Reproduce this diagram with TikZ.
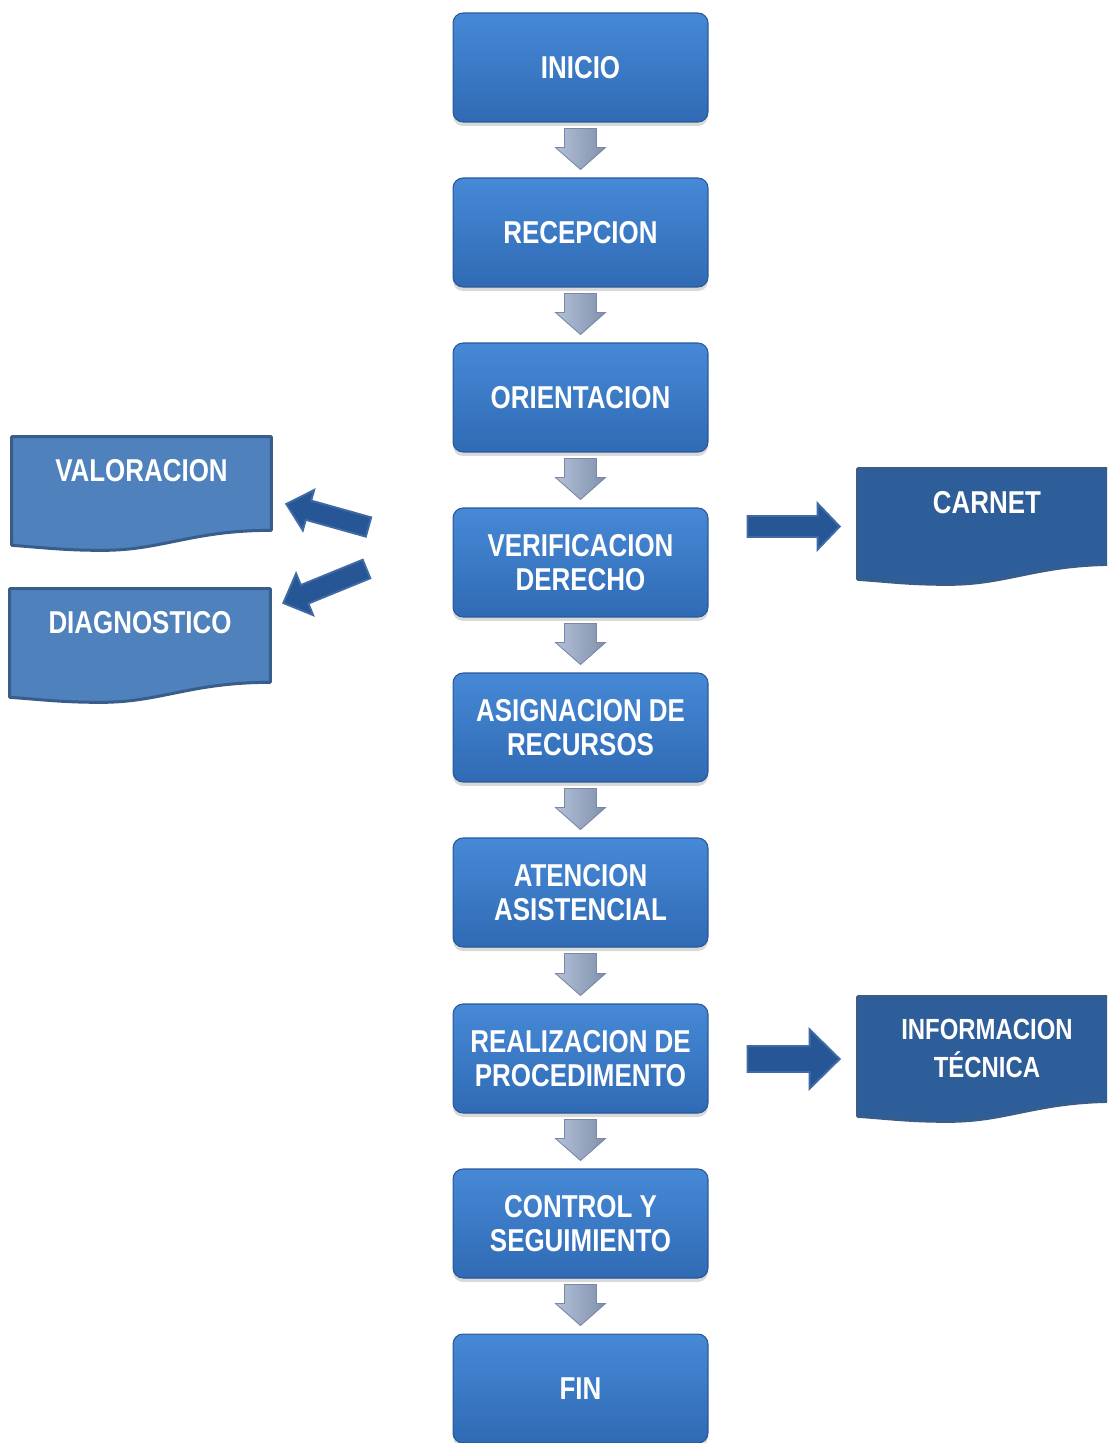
\documentclass[tikz,border=0pt]{standalone}
\usepackage{fontspec}
\newfontfamily\flowfont{Liberation Sans}[FakeStretch=0.82]
\usepackage{tikz}
\usetikzlibrary{positioning,calc,shadows}

\definecolor{boxtop}{RGB}{70,137,214}
\definecolor{boxbot}{RGB}{48,106,180}
\definecolor{boxline}{RGB}{40,88,152}
\definecolor{docleft}{RGB}{79,129,189}
\definecolor{docright}{RGB}{46,94,153}
\definecolor{docline}{RGB}{56,93,138}
\definecolor{arrowA}{RGB}{178,192,216}
\definecolor{arrowB}{RGB}{238,243,250}
\definecolor{arrowC}{RGB}{128,144,172}
\definecolor{arrowline}{RGB}{120,136,165}
\definecolor{sidefill}{RGB}{38,86,150}
\definecolor{sideline}{RGB}{64,106,166}

% block arrow: [style]{from}{to}{shaft half width}{head half width}{head length}
\newcommand{\blockarrow}[6][]{%
  \coordinate (ba-h) at ($(#3)!#6!(#2)$);
  \path[#1] ($(#2)!#4!90:(#3)$) -- ($(ba-h)!#4!90:(#3)$) -- ($(ba-h)!#5!90:(#3)$) -- (#3)
    -- ($(ba-h)!#5!-90:(#3)$) -- ($(ba-h)!#4!-90:(#3)$) -- ($(#2)!#4!-90:(#3)$) -- cycle;}

\begin{document}
\begin{tikzpicture}[x=0.02cm, y=0.02cm,
    stage/.style={rectangle, rounded corners=0.2cm, minimum width=5.1cm, minimum height=2.18cm,
                  top color=boxtop, bottom color=boxbot, draw=boxline, line width=0.6pt,
                  text=white, align=center, font=\flowfont\bfseries\fontsize{18}{19}\selectfont,
                  drop shadow={shadow xshift=0pt, shadow yshift=-0.08cm, opacity=0.3}},
    docbox/.style={rectangle, inner sep=0pt, minimum width=5.18cm},
    doctext/.style={text=white, align=center, inner sep=0pt,
                    font=\flowfont\bfseries\fontsize{18}{19}\selectfont},
    downarrow/.style={left color=arrowA, middle color=arrowB, right color=arrowC,
                      draw=arrowline, line width=0.5pt},
    sidearrow/.style={fill=sidefill, draw=sideline, line width=1.1pt, line join=miter}]
  \path[use as bounding box, clip] (0,0) rectangle (1107,-1443);

  % main flow
  \node[stage] (ini) at (580.5,-67.5) {INICIO};
  \node[stage] (rec) at (580.5,-232.5) {RECEPCION};
  \node[stage] (ori) at (580.5,-397.5) {ORIENTACION};
  \node[stage] (ver) at (580.5,-562.5) {VERIFICACION\\DERECHO};
  \node[stage] (asig) at (580.5,-727.5) {ASIGNACION DE\\RECURSOS};
  \node[stage] (aten) at (580.5,-892.5) {ATENCION\\ASISTENCIAL};
  \node[stage] (real) at (580.5,-1058.5) {REALIZACION DE\\PROCEDIMENTO};
  \node[stage] (ctrl) at (580.5,-1223.5) {CONTROL Y\\SEGUIMIENTO};
  \node[stage] (fin) at (580.5,-1388.5) {FIN};

  \foreach \src/\dst in {ini/rec, rec/ori, ori/ver, ver/asig, asig/aten, aten/real, real/ctrl, ctrl/fin}{
    \coordinate (p) at ($(\src.south)+(0,-6)$);
    \coordinate (q) at ($(\dst.north)+(0,8)$);
    \blockarrow[downarrow]{p}{q}{0.32cm}{0.5cm}{0.44cm}
  }

  % side documents
  \node[docbox, minimum height=2.26cm] (valor) at (141.5,-493.5) {};
  \node[docbox, minimum width=5.2cm, minimum height=2.26cm] (diag) at (140,-645.5) {};
  \node[docbox, minimum width=5.16cm, minimum height=2.3cm] (carnet) at (987,-526.5) {};
  \node[docbox, minimum width=5.16cm, minimum height=2.48cm] (info) at (987,-1059) {};

  \foreach \n/\c in {valor/docleft, diag/docleft, carnet/docright, info/docright}
    \filldraw[fill=\c, draw=docline, line width=0.06cm, line join=round]
      (\n.north west) -- (\n.north east) -- ($(\n.south east)+(0,20)$)
      .. controls ($(\n.south east)+(-80,20)$) and ($(\n.south west)!0.35!(\n.south east)+(60,0)$)
      .. ($(\n.south west)!0.35!(\n.south east)$)
      .. controls ($(\n.south west)!0.35!(\n.south east)+(-40,0)$) and ($(\n.south west)+(30,3)$)
      .. ($(\n.south west)+(0,5)$) -- cycle;

  \node[doctext, below=0.44cm of valor.north] (valor-t) {VALORACION};
  \node[doctext, below=0.44cm of diag.north] (diag-t) {DIAGNOSTICO};
  \node[doctext, below=0.44cm of carnet.north] (carnet-t) {CARNET};
  \node[doctext, font=\flowfont\bfseries\fontsize{16.6}{21.6}\selectfont,
        below=0.44cm of info.north] (info-t) {INFORMACION\\TÉCNICA};

  % side arrows
  \coordinate (c1) at ($(ver.east |- carnet.west)+(39,0)$);
  \coordinate (c2) at ($(carnet.west)+(-18,0)$);
  \blockarrow[sidearrow]{c1}{c2}{0.21cm}{0.46cm}{0.44cm}
  \coordinate (i1) at ($(real.east |- info.west)+(39,0)$);
  \coordinate (i2) at ($(info.west)+(-18,0)$);
  \blockarrow[sidearrow]{i1}{i2}{0.26cm}{0.59cm}{0.6cm}
  \coordinate (v1) at ($(ver.west)+(-84,35.5)$);
  \coordinate (v2) at ($(valor.east)+(15,-10.5)$);
  \blockarrow[sidearrow]{v1}{v2}{0.2cm}{0.42cm}{0.46cm}
  \coordinate (d1) at ($(ver.west)+(-86,-6.5)$);
  \coordinate (d2) at ($(diag.east)+(13,42.5)$);
  \blockarrow[sidearrow]{d1}{d2}{0.2cm}{0.45cm}{0.46cm}
\end{tikzpicture}
\end{document}
